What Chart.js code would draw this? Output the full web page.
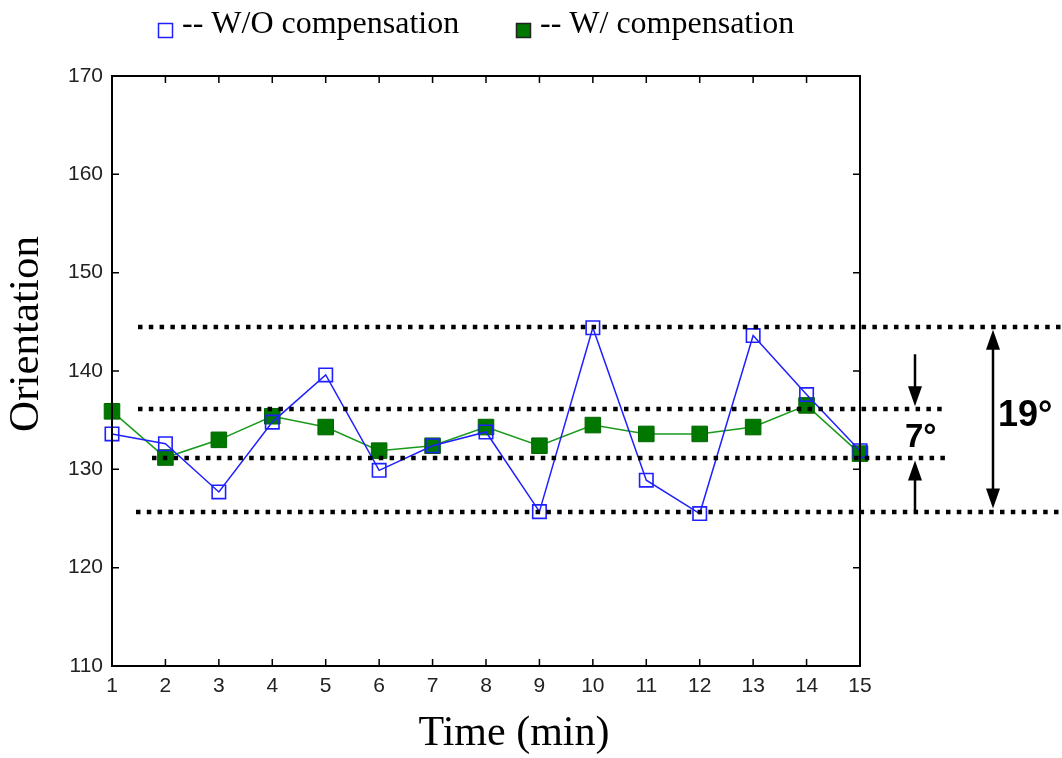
<!DOCTYPE html>
<html>
<head>
<meta charset="utf-8">
<title>Orientation</title>
<script src="https://cdn.jsdelivr.net/npm/chart.js@4"></script>
<style>
  html, body { margin: 0; padding: 0; background: #fff; }
  #wrap { width: 1062px; height: 758px; position: relative; }
</style>
</head>
<body>
<div id="wrap"><canvas id="orientChart" width="1062" height="758"></canvas></div>
<script>
// minutes on the x axis
const minutes = [1, 2, 3, 4, 5, 6, 7, 8, 9, 10, 11, 12, 13, 14, 15];
// orientation without compensation
const withoutComp = [133.6, 132.6, 127.7, 134.8, 139.6, 129.9, 132.4, 133.8, 125.7, 144.4, 128.9, 125.5, 143.6, 137.6, 131.9];
// orientation with compensation
const withComp = [135.9, 131.2, 133.0, 135.4, 134.3, 131.9, 132.4, 134.3, 132.4, 134.5, 133.6, 133.6, 134.3, 136.5, 131.6];
// y axis ticks
const yTicks = [110, 120, 130, 140, 150, 160, 170];
// spread bands: outer (without) and inner (with)
const outerBand = [144.5, 125.7];
const innerBand = [136.1, 131.2];
const bandLabels = ['19°', '7°'];
const xTitle = 'Time (min)';
const yTitle = 'Orientation';

const fontTimes = '"Liberation Serif", "Times New Roman", serif';
const fontTick = '"Liberation Sans Narrow", "Arial Narrow", "Liberation Sans", Arial, sans-serif';
const blue = '#2020ff';
const green = '#007800';

function arrowHead(ctx, x, y, dir) {
    // dir = 1 points down, -1 points up
    ctx.beginPath();
    ctx.moveTo(x, y);
    ctx.lineTo(x - 7, y - dir * 20);
    ctx.lineTo(x + 7, y - dir * 20);
    ctx.closePath();
    ctx.fill();
}

const decorPlugin = {
    id: 'decor',
    afterDatasetsDraw(chart) {
        const ctx = chart.ctx;
        const x = chart.scales.x;
        const y = chart.scales.y;
        const a = chart.chartArea;
        ctx.save();

        // frame
        ctx.strokeStyle = '#000';
        ctx.lineWidth = 2;
        ctx.strokeRect(a.left, a.top, a.right - a.left, a.bottom - a.top);

        // inward ticks on all four sides
        ctx.lineWidth = 1.5;
        ctx.beginPath();
        yTicks.forEach(v => {
            const py = y.getPixelForValue(v);
            ctx.moveTo(a.left, py); ctx.lineTo(a.left + 7, py);
            ctx.moveTo(a.right, py); ctx.lineTo(a.right - 7, py);
        });
        minutes.forEach(m => {
            const px = x.getPixelForValue(m);
            ctx.moveTo(px, a.bottom); ctx.lineTo(px, a.bottom - 7);
            ctx.moveTo(px, a.top); ctx.lineTo(px, a.top + 7);
        });
        ctx.stroke();

        // axis titles
        ctx.fillStyle = '#000';
        ctx.textAlign = 'center';
        ctx.textBaseline = 'middle';
        ctx.font = '42px ' + fontTimes;
        ctx.fillText(xTitle, 514, 734);
        ctx.save();
        ctx.translate(27, 334);
        ctx.rotate(-Math.PI / 2);
        ctx.font = '43px ' + fontTimes;
        ctx.fillText(yTitle, 0, 0);
        ctx.restore();

        // legend
        ctx.textAlign = 'left';
        ctx.font = '32px ' + fontTimes;
        const legendX = [158, 516];
        chart.data.datasets.forEach((ds, i) => {
            const lx = legendX[i];
            ctx.lineWidth = 1.5;
            if (i === 0) {
                ctx.strokeStyle = blue;
                ctx.strokeRect(lx + 0.5, 23.5, 14, 14);
            } else {
                ctx.fillStyle = green;
                ctx.fillRect(lx, 23, 15, 15);
                ctx.strokeStyle = '#222';
                ctx.strokeRect(lx + 0.5, 23.5, 14, 14);
            }
            ctx.fillStyle = '#000';
            ctx.fillText(ds.label, lx + 24, 25);
        });

        // dotted band lines
        ctx.setLineDash([4.5, 6.3]);
        ctx.lineWidth = 4.5;
        ctx.strokeStyle = '#000';
        const lines = [
            [outerBand[0], 138, 1062],
            [innerBand[0], 138, 948],
            [innerBand[1], 152, 948],
            [outerBand[1], 136, 1062]
        ];
        lines.forEach(([v, x0, x1]) => {
            const py = Math.round(y.getPixelForValue(v));
            ctx.beginPath();
            ctx.moveTo(x0, py);
            ctx.lineTo(x1, py);
            ctx.stroke();
        });
        ctx.setLineDash([]);

        // 19 degree double arrow
        ctx.fillStyle = '#000';
        ctx.lineWidth = 2.5;
        const ax = 993;
        const oTop = y.getPixelForValue(outerBand[0]) + 3;
        const oBot = y.getPixelForValue(outerBand[1]) - 3;
        ctx.beginPath();
        ctx.moveTo(ax, oTop + 15); ctx.lineTo(ax, oBot - 15);
        ctx.stroke();
        arrowHead(ctx, ax, oTop, -1);
        arrowHead(ctx, ax, oBot, 1);

        // 7 degree inward arrows
        const bx = 915;
        const iTop = y.getPixelForValue(innerBand[0]) - 3;
        const iBot = y.getPixelForValue(innerBand[1]) + 3;
        ctx.beginPath();
        ctx.moveTo(bx, iTop - 52); ctx.lineTo(bx, iTop - 15);
        ctx.moveTo(bx, iBot + 50); ctx.lineTo(bx, iBot + 15);
        ctx.stroke();
        arrowHead(ctx, bx, iTop, 1);
        arrowHead(ctx, bx, iBot, -1);

        // band labels
        ctx.font = 'bold 36px "Liberation Sans", Arial, sans-serif';
        ctx.textBaseline = 'middle';
        ctx.textAlign = 'left';
        ctx.fillText(bandLabels[0], 998, (oTop + oBot) / 2 - 3);
        ctx.font = 'bold 33px "Liberation Sans", Arial, sans-serif';
        ctx.fillText(bandLabels[1], 905, (iTop + iBot) / 2 + 4);

        ctx.restore();
    }
};

const ctx = document.getElementById('orientChart').getContext('2d');

new Chart(ctx, {
    type: 'line',
    data: {
        datasets: [{
            label: '-- W/O compensation',
            data: minutes.map((m, i) => ({ x: m, y: withoutComp[i] })),
            borderColor: blue,
            borderWidth: 1.5,
            pointStyle: 'rect',
            pointRadius: 9.5,
            pointBorderWidth: 1.6,
            pointBorderColor: blue,
            pointBackgroundColor: 'rgba(255,255,255,0)',
            clip: false,
            tension: 0
        }, {
            label: '-- W/ compensation',
            data: minutes.map((m, i) => ({ x: m, y: withComp[i] })),
            borderColor: '#1a9a1a',
            borderWidth: 1.5,
            pointStyle: 'rect',
            pointRadius: 11,
            pointBorderWidth: 1,
            pointBorderColor: '#006600',
            pointBackgroundColor: green,
            clip: false,
            tension: 0
        }]
    },
    options: {
        responsive: false,
        animation: false,
        layout: { padding: { top: 76, right: 202, bottom: 0, left: 0 } },
        plugins: {
            tooltip: { enabled: false },
            legend: { display: false }
        },
        scales: {
            x: {
                type: 'linear',
                min: 1,
                max: 15,
                afterBuildTicks(scale) {
                    scale.ticks = minutes.map(v => ({ value: v }));
                },
                grid: { display: false, drawTicks: false },
                border: { display: false },
                ticks: {
                    color: '#222',
                    padding: 8,
                    maxRotation: 0,
                    font: { family: fontTick, size: 21 }
                },
                afterFit(scale) { scale.height = 92; }
            },
            y: {
                min: 110,
                max: 170,
                afterBuildTicks(scale) {
                    scale.ticks = yTicks.map(v => ({ value: v }));
                },
                grid: { display: false, drawTicks: false },
                border: { display: false },
                ticks: {
                    color: '#222',
                    padding: 9,
                    font: { family: fontTick, size: 21 }
                },
                afterFit(scale) { scale.width = 112; }
            }
        }
    },
    plugins: [decorPlugin]
});
</script>
</body>
</html>
